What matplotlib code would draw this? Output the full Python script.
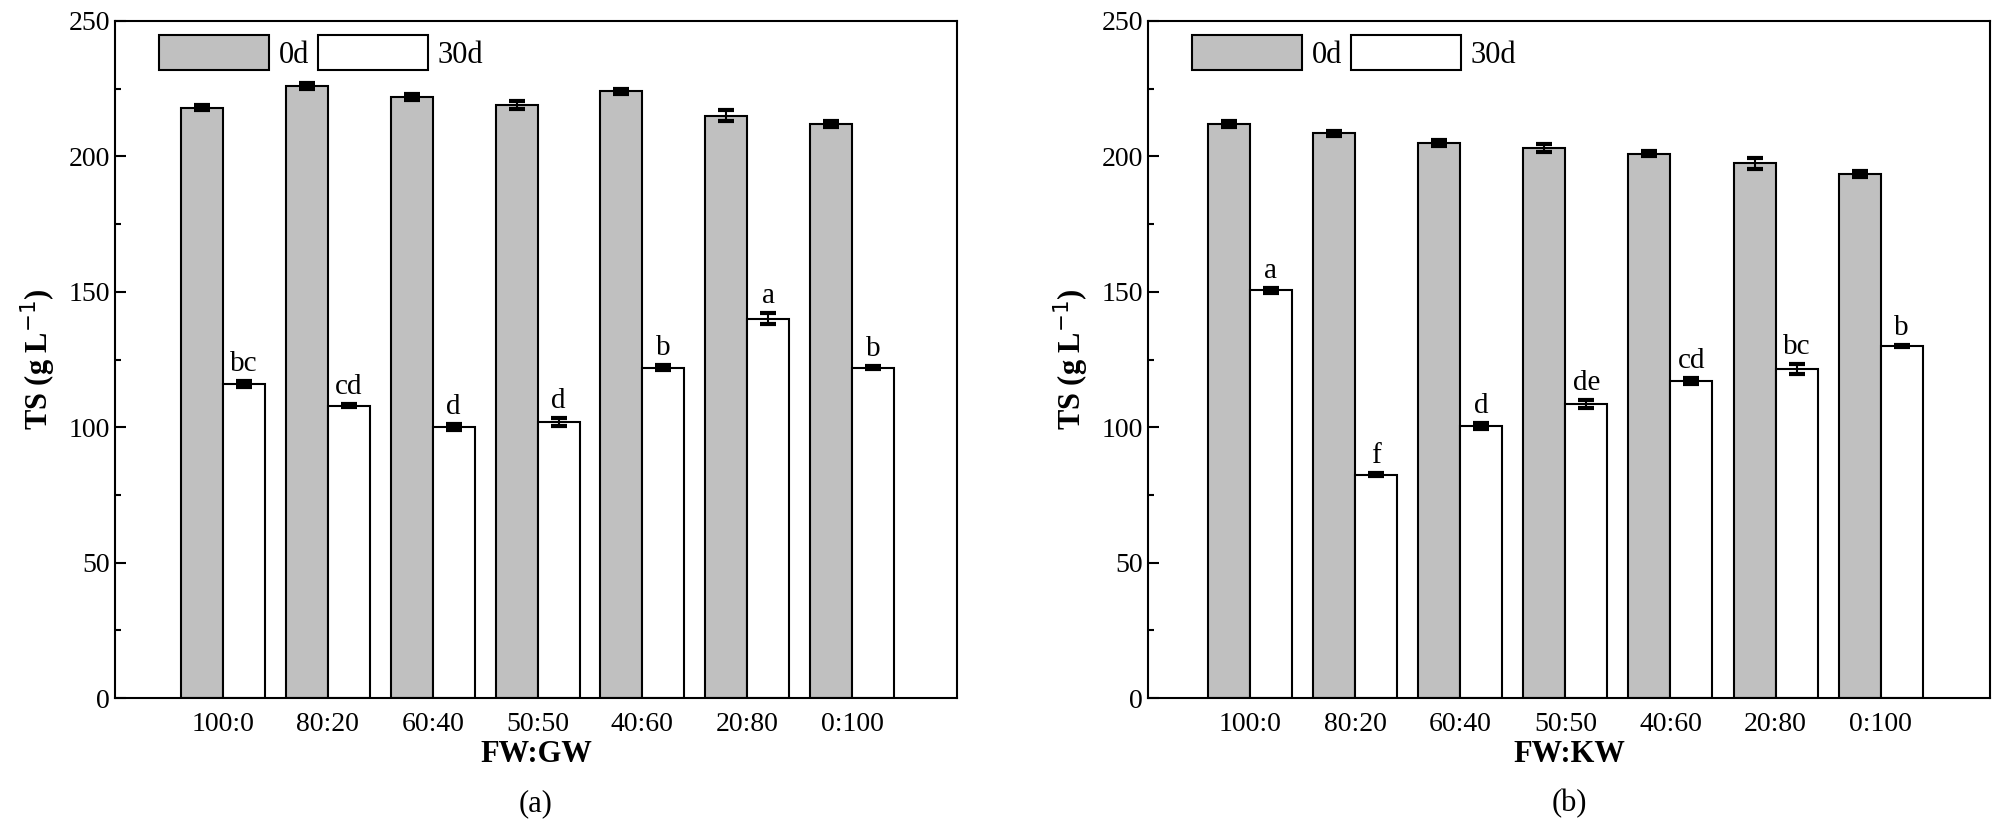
import matplotlib
matplotlib.use("Agg")
import matplotlib.pyplot as plt
import numpy as np
from matplotlib.ticker import MultipleLocator

plt.rcParams["font.family"] = "Liberation Serif"

categories = ["100:0", "80:20", "60:40", "50:50", "40:60", "20:80", "0:100"]
a_0d = [218, 226, 222, 219, 224, 215, 212]
a_0d_err = [1, 1, 1, 1.5, 1, 2, 1]
a_30d = [116, 108, 100, 102, 122, 140, 122]
a_30d_err = [1, 0.5, 1, 1.5, 1, 2, 0.5]
a_letters = ["bc", "cd", "d", "d", "b", "a", "b"]
b_0d = [212, 208.5, 205, 203, 201, 197.5, 193.5]
b_0d_err = [1, 1, 1, 1.5, 1, 2, 1]
b_30d = [150.5, 82.5, 100.5, 108.5, 117, 121.5, 130]
b_30d_err = [1, 0.5, 1, 1.5, 1, 2, 0.5]
b_letters = ["a", "f", "d", "de", "cd", "bc", "b"]

fig = plt.figure(figsize=(20, 8.24), dpi=100)

def panel(rect, xlim, v0, e0, v30, e30, letters, xlabel, sub):
    ax = fig.add_axes(rect)
    x = np.arange(len(categories))
    w = 0.40
    ek = dict(ecolor="black", capsize=6, elinewidth=1.5, capthick=3)
    ax.bar(x - w/2, v0, w, color="#c0c0c0", edgecolor="black", linewidth=1.5,
           yerr=e0, error_kw=ek, label="0d")
    ax.bar(x + w/2, v30, w, color="white", edgecolor="black", linewidth=1.5,
           yerr=e30, error_kw=ek, label="30d")
    for xi, v, e, t in zip(x, v30, e30, letters):
        ax.text(xi + w/2, v + e + 1.5, t, ha="center", va="bottom", fontsize=21)
    ax.set_xlim(*xlim)
    ax.set_ylim(0, 250)
    ax.set_xticks(x)
    ax.set_xticklabels(categories, fontsize=20)
    ax.tick_params(axis="x", length=0, pad=10)
    ax.yaxis.set_major_locator(MultipleLocator(50))
    ax.yaxis.set_minor_locator(MultipleLocator(25))
    ax.tick_params(axis="y", which="major", direction="in", length=8, width=1.5, labelsize=20)
    ax.tick_params(axis="y", which="minor", direction="in", length=4, width=1.5)
    for s in ax.spines.values():
        s.set_linewidth(1.5)
    ax.set_ylabel("TS (g L$^{-1}$)", fontsize=22, fontweight="bold", labelpad=8)
    ax.set_xlabel(xlabel, fontsize=22, fontweight="bold", labelpad=2)
    ax.text(0.5, -0.135, sub, transform=ax.transAxes, ha="center", va="top", fontsize=22)
    ax.legend(loc="upper left", ncol=2, frameon=False, fontsize=22, handlelength=3.6,
              handleheight=1.4, columnspacing=0.3, handletextpad=0.3,
              bbox_to_anchor=(0.02, 1.02))
    return ax

panel([115/2000, 126/824, 842/2000, 677/824], (-1.03, 7.0),
      a_0d, a_0d_err, a_30d, a_30d_err, a_letters, "FW:GW", "(a)")
panel([1148/2000, 126/824, 842/2000, 677/824], (-0.97, 7.04),
      b_0d, b_0d_err, b_30d, b_30d_err, b_letters, "FW:KW", "(b)")

fig.savefig("out.png", dpi=100)
